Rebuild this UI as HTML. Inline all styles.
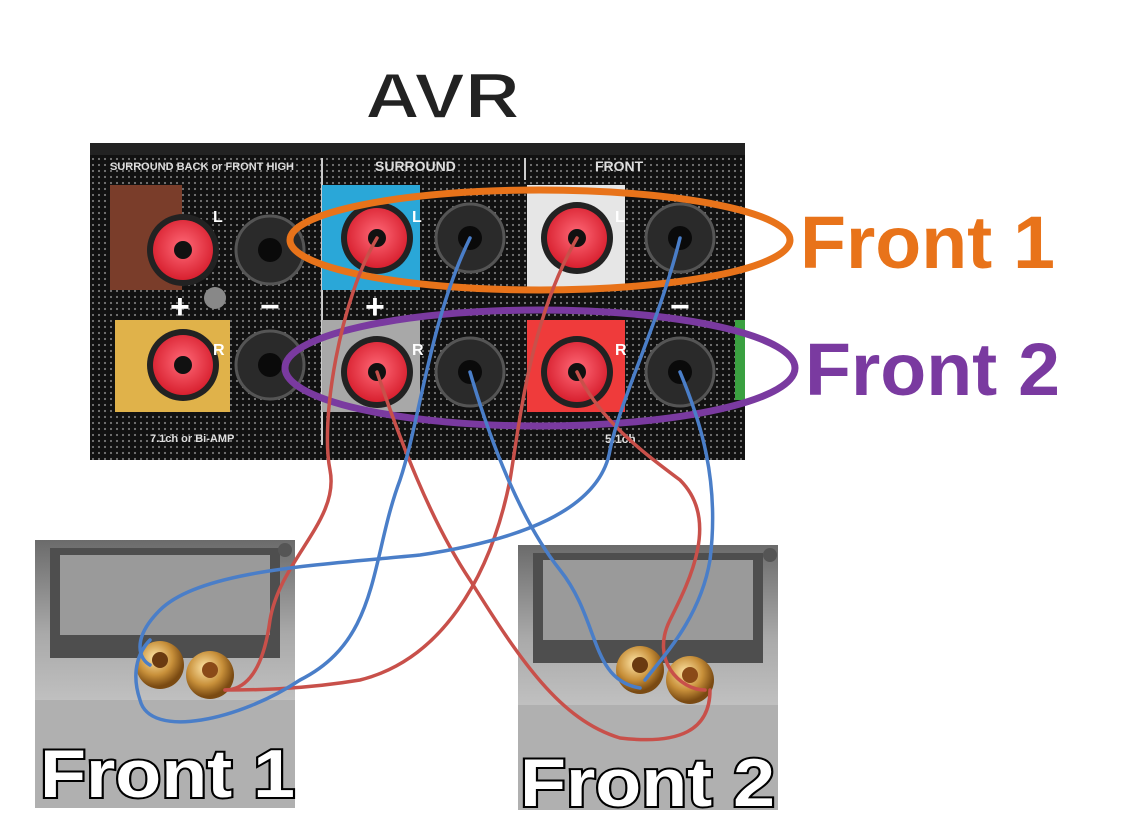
<!DOCTYPE html>
<html><head><meta charset="utf-8"><style>
html,body{margin:0;padding:0;background:#fff;width:1122px;height:835px;overflow:hidden}
svg{display:block}
</style></head><body>
<svg width="1122" height="835" viewBox="0 0 1122 835" xmlns="http://www.w3.org/2000/svg">
<defs>
<pattern id="dots" width="6" height="6" patternUnits="userSpaceOnUse">
<rect width="6" height="6" fill="#111"/><circle cx="3" cy="3" r="1.1" fill="#777"/>
</pattern>
<radialGradient id="red" cx="50%" cy="45%" r="55%"><stop offset="0" stop-color="#ff6a78"/><stop offset="1" stop-color="#d8202f"/></radialGradient>
<radialGradient id="gold" cx="40%" cy="35%" r="60%"><stop offset="0" stop-color="#ffe6a8"/><stop offset="0.6" stop-color="#c8903a"/><stop offset="1" stop-color="#7a4a12"/></radialGradient>
<linearGradient id="metal" x1="0" y1="0" x2="0" y2="1"><stop offset="0" stop-color="#6b6b6b"/><stop offset="0.35" stop-color="#a9a9a9"/><stop offset="0.7" stop-color="#c9c9c9"/><stop offset="1" stop-color="#8f8f8f"/></linearGradient>
</defs>

<text x="365" y="118" textLength="155" lengthAdjust="spacingAndGlyphs" font-family="Liberation Sans, sans-serif" font-weight="bold" font-size="64" fill="#222" stroke="#fff" stroke-width="1.5">AVR</text>

<!-- AVR panel -->
<rect x="90" y="143" width="655" height="317" fill="url(#dots)"/>
<rect x="90" y="143" width="655" height="12" fill="#222"/>
<text x="110" y="170" font-family="Liberation Sans, sans-serif" font-weight="bold" font-size="11" fill="#ddd">SURROUND BACK or FRONT HIGH</text>
<text x="375" y="171" font-family="Liberation Sans, sans-serif" font-weight="bold" font-size="14" fill="#ddd">SURROUND</text>
<text x="595" y="171" font-family="Liberation Sans, sans-serif" font-weight="bold" font-size="14" fill="#ddd">FRONT</text>
<text x="150" y="442" font-family="Liberation Sans, sans-serif" font-weight="bold" font-size="11" fill="#ddd">7.1ch or Bi-AMP</text>
<text x="605" y="443" font-family="Liberation Sans, sans-serif" font-weight="bold" font-size="12" fill="#ddd">5.1ch</text>
<line x1="322" y1="158" x2="322" y2="445" stroke="#ccc" stroke-width="2"/>
<line x1="525" y1="158" x2="525" y2="180" stroke="#ccc" stroke-width="2"/>

<rect x="110" y="185" width="72" height="105" fill="#7a3d2a"/>
<rect x="115" y="320" width="115" height="92" fill="#e0b24a"/>
<rect x="322" y="185" width="98" height="105" fill="#2aa7d8"/>
<rect x="322" y="320" width="98" height="92" fill="#a8a8a8"/>
<rect x="527" y="185" width="98" height="105" fill="#e6e6e6"/>
<rect x="527" y="320" width="98" height="92" fill="#ef3b3b"/>
<rect x="735" y="320" width="10" height="80" fill="#3aa040"/>

<g>
<circle cx="183" cy="250" r="36" fill="#222"/><circle cx="183" cy="250" r="30" fill="url(#red)"/><circle cx="183" cy="250" r="9" fill="#111"/>
<circle cx="183" cy="365" r="36" fill="#222"/><circle cx="183" cy="365" r="30" fill="url(#red)"/><circle cx="183" cy="365" r="9" fill="#111"/>
<circle cx="377" cy="238" r="36" fill="#222"/><circle cx="377" cy="238" r="30" fill="url(#red)"/><circle cx="377" cy="238" r="9" fill="#111"/>
<circle cx="377" cy="372" r="36" fill="#222"/><circle cx="377" cy="372" r="30" fill="url(#red)"/><circle cx="377" cy="372" r="9" fill="#111"/>
<circle cx="577" cy="238" r="36" fill="#222"/><circle cx="577" cy="238" r="30" fill="url(#red)"/><circle cx="577" cy="238" r="9" fill="#111"/>
<circle cx="577" cy="372" r="36" fill="#222"/><circle cx="577" cy="372" r="30" fill="url(#red)"/><circle cx="577" cy="372" r="9" fill="#111"/>
<circle cx="270" cy="250" r="34" fill="#2a2a2a" stroke="#555" stroke-width="3"/><circle cx="270" cy="250" r="12" fill="#0a0a0a"/>
<circle cx="270" cy="365" r="34" fill="#2a2a2a" stroke="#555" stroke-width="3"/><circle cx="270" cy="365" r="12" fill="#0a0a0a"/>
<circle cx="470" cy="238" r="34" fill="#2a2a2a" stroke="#555" stroke-width="3"/><circle cx="470" cy="238" r="12" fill="#0a0a0a"/>
<circle cx="470" cy="372" r="34" fill="#2a2a2a" stroke="#555" stroke-width="3"/><circle cx="470" cy="372" r="12" fill="#0a0a0a"/>
<circle cx="680" cy="238" r="34" fill="#2a2a2a" stroke="#555" stroke-width="3"/><circle cx="680" cy="238" r="12" fill="#0a0a0a"/>
<circle cx="680" cy="372" r="34" fill="#2a2a2a" stroke="#555" stroke-width="3"/><circle cx="680" cy="372" r="12" fill="#0a0a0a"/>
</g>
<g font-family="Liberation Sans, sans-serif" font-weight="bold" fill="#fff">
<text x="213" y="222" font-size="16">L</text><text x="213" y="355" font-size="16">R</text>
<text x="412" y="222" font-size="16">L</text><text x="412" y="355" font-size="16">R</text>
<text x="615" y="222" font-size="16">L</text><text x="615" y="355" font-size="16">R</text>
<text x="170" y="318" font-size="34">+</text><text x="260" y="318" font-size="34">−</text>
<text x="365" y="318" font-size="34">+</text><text x="670" y="318" font-size="34">−</text>
</g>
<circle cx="215" cy="298" r="11" fill="#888"/>

<!-- ellipses -->
<ellipse cx="540" cy="240" rx="250" ry="50" fill="none" stroke="#e8731a" stroke-width="7"/>
<ellipse cx="540" cy="368" rx="255" ry="58" fill="none" stroke="#7a3aa0" stroke-width="7"/>
<text x="800" y="268" textLength="255" lengthAdjust="spacingAndGlyphs" font-family="Liberation Sans, sans-serif" font-weight="bold" font-size="74" fill="#e8731a">Front 1</text>
<text x="805" y="395" textLength="255" lengthAdjust="spacingAndGlyphs" font-family="Liberation Sans, sans-serif" font-weight="bold" font-size="74" fill="#7a3aa0">Front 2</text>

<!-- speakers -->
<g>
<rect x="35" y="540" width="260" height="268" fill="url(#metal)"/>
<rect x="50" y="548" width="230" height="110" fill="#4e4e4e"/>
<rect x="60" y="555" width="210" height="80" fill="#9a9a9a"/>
<rect x="35" y="700" width="260" height="108" fill="#b0b0b0"/>
<circle cx="285" cy="550" r="7" fill="#555"/>
<circle cx="160" cy="665" r="24" fill="url(#gold)"/><circle cx="160" cy="660" r="8" fill="#6a3a10"/>
<circle cx="210" cy="675" r="24" fill="url(#gold)"/><circle cx="210" cy="670" r="8" fill="#8a4a18"/>

<rect x="518" y="545" width="260" height="265" fill="url(#metal)"/>
<rect x="533" y="553" width="230" height="110" fill="#4e4e4e"/>
<rect x="543" y="560" width="210" height="80" fill="#9a9a9a"/>
<rect x="518" y="705" width="260" height="105" fill="#b0b0b0"/>
<circle cx="770" cy="555" r="7" fill="#555"/>
<circle cx="640" cy="670" r="24" fill="url(#gold)"/><circle cx="640" cy="665" r="8" fill="#6a3a10"/>
<circle cx="690" cy="680" r="24" fill="url(#gold)"/><circle cx="690" cy="675" r="8" fill="#8a4a18"/>
</g>

<!-- wires -->
<g fill="none" stroke-width="3.5" stroke-linecap="round">
<path d="M377 238 C340 300 320 420 330 470 C340 520 280 560 270 620 C262 680 240 690 225 690" stroke="#c8504a"/>
<path d="M577 238 C530 320 520 420 510 480 C490 580 440 660 360 680 C300 690 250 690 225 690" stroke="#c8504a"/>
<path d="M377 372 C400 440 430 520 470 580 C520 660 560 720 620 738 C680 745 710 730 710 690" stroke="#c8504a"/>
<path d="M577 372 C600 420 640 450 680 480 C720 520 690 580 670 620 C650 660 680 690 705 690" stroke="#c8504a"/>
<path d="M470 238 C430 320 420 420 400 480 C370 560 380 640 300 680 C240 720 150 740 140 700 C130 670 140 650 150 640" stroke="#4a7ec8"/>
<path d="M680 238 C660 320 620 400 610 450 C600 510 520 540 420 555 C320 565 200 570 160 610 C130 640 140 660 150 665" stroke="#4a7ec8"/>
<path d="M470 372 C490 440 520 520 560 570 C600 620 590 680 640 688" stroke="#4a7ec8"/>
<path d="M680 372 C700 420 720 480 710 560 C700 620 660 660 645 680" stroke="#4a7ec8"/>
</g>

<g font-family="Liberation Sans, sans-serif" font-weight="bold" font-size="68" fill="#fff" stroke="#000" stroke-width="4" paint-order="stroke">
<text x="40" y="797" textLength="255" lengthAdjust="spacingAndGlyphs">Front 1</text>
<text x="520" y="806" textLength="255" lengthAdjust="spacingAndGlyphs">Front 2</text>
</g>
</svg>
</body></html>
